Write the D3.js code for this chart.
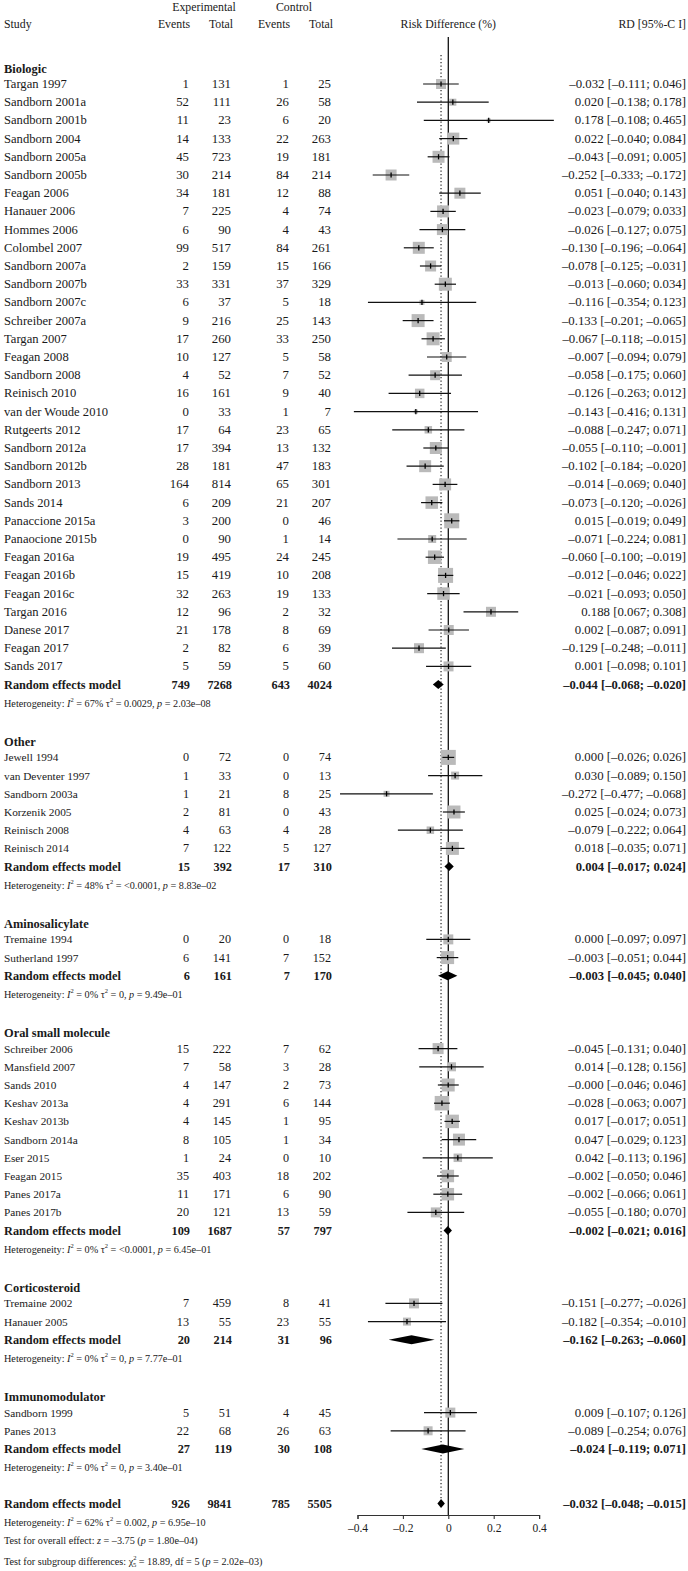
<!DOCTYPE html>
<html><head><meta charset="utf-8">
<script src="https://cdn.jsdelivr.net/npm/d3@7"></script>
<style>
body{margin:0;background:#fff}
svg{display:block}
text{font-family:"Liberation Serif","DejaVu Serif",serif;fill:#1a1a1a}
</style>
</head><body>
<svg id="chart" width="688" height="1571"></svg>
<script>
// ---------------- DATA ----------------
const groups = ["Biologic","Other","Aminosalicylate","Oral small molecule","Corticosteroid","Immunomodulator"];
const groupSizes = [33, 6, 2, 10, 2, 2];

const studies = [
 "Targan 1997","Sandborn 2001a","Sandborn 2001b","Sandborn 2004","Sandborn 2005a","Sandborn 2005b",
 "Feagan 2006","Hanauer 2006","Hommes 2006","Colombel 2007","Sandborn 2007a","Sandborn 2007b",
 "Sandborn 2007c","Schreiber 2007a","Targan 2007","Feagan 2008","Sandborn 2008","Reinisch 2010",
 "van der Woude 2010","Rutgeerts 2012","Sandborn 2012a","Sandborn 2012b","Sandborn 2013","Sands 2014",
 "Panaccione 2015a","Panaocione 2015b","Feagan 2016a","Feagan 2016b","Feagan 2016c","Targan 2016",
 "Danese 2017","Feagan 2017","Sands 2017",
 "Jewell 1994","van Deventer 1997","Sandborn 2003a","Korzenik 2005","Reinisch 2008","Reinisch 2014",
 "Tremaine 1994","Sutherland 1997",
 "Schreiber 2006","Mansfield 2007","Sands 2010","Keshav 2013a","Keshav 2013b","Sandborn 2014a",
 "Eser 2015","Feagan 2015","Panes 2017a","Panes 2017b",
 "Tremaine 2002","Hanauer 2005",
 "Sandborn 1999","Panes 2013"
];
const expEvents = [1,52,11,14,45,30,34,7,6,99,2,33,6,9,17,10,4,16,0,17,17,28,164,6,3,0,19,15,32,12,21,2,5,
 0,1,1,2,4,7, 0,6, 15,7,4,4,4,8,1,35,11,20, 7,13, 5,22];
const expTotal = [131,111,23,133,723,214,181,225,90,517,159,331,37,216,260,127,52,161,33,64,394,181,814,209,200,90,495,419,263,96,178,82,59,
 72,33,21,81,63,122, 20,141, 222,58,147,291,145,105,24,403,171,121, 459,55, 51,68];
const ctrlEvents = [1,26,6,22,19,84,12,4,4,84,15,37,5,25,33,5,7,9,1,23,13,47,65,21,0,1,24,10,19,2,8,6,5,
 0,0,8,0,4,5, 0,7, 7,3,2,6,1,1,0,18,6,13, 8,23, 4,26];
const ctrlTotal = [25,58,20,263,181,214,88,74,43,261,166,329,18,143,250,58,52,40,7,65,132,183,301,207,46,14,245,208,133,32,69,39,60,
 74,13,25,43,28,127, 18,152, 62,28,73,144,95,34,10,202,90,59, 41,55, 45,63];
const rd = [-0.032,0.020,0.178,0.022,-0.043,-0.252,0.051,-0.023,-0.026,-0.130,-0.078,-0.013,-0.116,-0.133,-0.067,-0.007,-0.058,-0.126,
 -0.143,-0.088,-0.055,-0.102,-0.014,-0.073,0.015,-0.071,-0.060,-0.012,-0.021,0.188,0.002,-0.129,0.001,
 0.000,0.030,-0.272,0.025,-0.079,0.018, 0.000,-0.003,
 -0.045,0.014,-0.0004,-0.028,0.017,0.047,0.042,-0.002,-0.002,-0.055, -0.151,-0.182, 0.009,-0.089];
const lower = [-0.111,-0.138,-0.108,-0.040,-0.091,-0.333,-0.040,-0.079,-0.127,-0.196,-0.125,-0.060,-0.354,-0.201,-0.118,-0.094,-0.175,-0.263,
 -0.416,-0.247,-0.110,-0.184,-0.069,-0.120,-0.019,-0.224,-0.100,-0.046,-0.093,0.067,-0.087,-0.248,-0.098,
 -0.026,-0.089,-0.477,-0.024,-0.222,-0.035, -0.097,-0.051,
 -0.131,-0.128,-0.046,-0.063,-0.017,-0.029,-0.113,-0.050,-0.066,-0.180, -0.277,-0.354, -0.107,-0.254];
const upper = [0.046,0.178,0.465,0.084,0.005,-0.172,0.143,0.033,0.075,-0.064,-0.031,0.034,0.123,-0.065,-0.015,0.079,0.060,0.012,
 0.131,0.071,-0.001,-0.020,0.040,-0.026,0.049,0.081,-0.019,0.022,0.050,0.308,0.091,-0.011,0.101,
 0.026,0.150,-0.068,0.073,0.064,0.071, 0.097,0.044,
 0.040,0.156,0.046,0.007,0.051,0.123,0.196,0.046,0.061,0.070, -0.026,-0.010, 0.126,0.076];
// approximate random-effects weights (%)
const weight = [1.56,0.77,0.25,2.25,2.25,1.89,1.89,2.25,1.89,2.25,1.89,2.64,0.39,2.64,2.64,1.56,1.56,1.41,
 0.25,0.88,2.25,2.25,2.25,2.44,3.52,1.0,2.85,3.52,2.44,1.56,1.56,1.56,1.56,
 3.52,1.0,0.56,2.64,0.88,2.64, 1.56,2.64,
 1.89,1.27,2.64,3.29,2.85,2.25,1.13,2.44,2.44,1.56, 1.56,1.0, 1.56,1.27];

const pooledExpEvents = [749,15,6,109,20,27];
const pooledExpTotal = [7268,392,161,1687,214,119];
const pooledCtrlEvents = [643,17,7,57,31,30];
const pooledCtrlTotal = [4024,310,170,797,96,108];
const pooledRD = [-0.044,0.004,-0.003,-0.002,-0.162,-0.024];
const pooledLower = [-0.068,-0.017,-0.045,-0.021,-0.263,-0.119];
const pooledUpper = [-0.020,0.024,0.040,0.016,-0.060,0.071];
const hetI2 = ["67%","48%","0%","0%","0%","0%"];
const hetTau2 = ["0.0029","<0.0001","0","<0.0001","0","0"];
const hetP = ["2.03e–08","8.83e–02","9.49e–01","6.45e–01","7.77e–01","3.40e–01"];

const overallCounts = [926, 9841, 785, 5505];
const overallRD = [-0.032, -0.048, -0.015];
const overallHet = ["62%", "0.002", "6.95e–10"];
const overallTest = ["–3.75", "1.80e–04"];
const subgroupTest = ["18.89", "5", "2.02e–03"];

const xTicks = [-0.4, -0.2, 0, 0.2, 0.4];

// ---------------- LAYOUT ----------------
const svg = d3.select("#chart");
const x = d3.scaleLinear().domain([-0.4, 0.4]).range([357.5, 539.1]);
const y = d3.scaleLinear().domain([0, 81]).range([84, 84 + 81 * 18.2]);
const box = d3.scaleSqrt().domain([0, 3.52]).range([0, 15]);

const colX = [189, 231, 289, 331];
const rdX = 686;
const fmt = v => (v < 0 || Object.is(v, -0) ? "–" : "") + Math.abs(v).toFixed(3);
const rdText = (e, l, u) => `${fmt(e)} [${fmt(l)}; ${fmt(u)}]`;

// build row list
const rows = [];
let r = -1, si = 0;
groups.forEach((g, gi) => {
  rows.push({type: "head", gi, row: r + 0.15}); r++;
  for (let k = 0; k < groupSizes[gi]; k++) { rows.push({type: "study", gi, i: si++, row: r}); r++; }
  rows.push({type: "pooled", gi, row: r}); r++;
  rows.push({type: "het", gi, row: r}); r++;
  r++; // blank
});
const overallRow = r - 1 + 1; // after last blank
// r now points to row after blank of last group

// header
const hdr = svg.append("g").style("font-size", "11.8px");
hdr.append("text").attr("x", 4).attr("y", 24).attr("dominant-baseline", "central").text("Study");
hdr.append("text").attr("x", 204).attr("y", 7).attr("text-anchor", "middle").attr("dominant-baseline", "central").text("Experimental");
hdr.append("text").attr("x", 294).attr("y", 7).attr("text-anchor", "middle").attr("dominant-baseline", "central").text("Control");
["Events","Total","Events","Total"].forEach((t, k) =>
  hdr.append("text").attr("x", colX[k] + (k % 2 ? 2 : 1)).attr("y", 24).attr("text-anchor", "end").attr("dominant-baseline", "central").text(t));
hdr.append("text").attr("x", x(0)).attr("y", 24).attr("text-anchor", "middle").attr("dominant-baseline", "central").text("Risk Difference (%)");
hdr.append("text").attr("x", rdX).attr("y", 24).attr("text-anchor", "end").attr("dominant-baseline", "central").text("RD [95%-C I]");

// reference lines
const lastRow = 78;
svg.append("line").attr("x1", x(0)).attr("x2", x(0)).attr("y1", 37).attr("y2", 1515)
  .attr("stroke", "#111").attr("stroke-width", 1.3);
svg.append("line").attr("x1", x(overallRD[0])).attr("x2", x(overallRD[0])).attr("y1", 55).attr("y2", y(lastRow))
  .attr("stroke", "#222").attr("stroke-width", 1.2).attr("stroke-dasharray", "1.3,2.2");

// helpers
function sup(t, s, dy) {
  t.append("tspan").attr("dy", -dy).style("font-size", s).text("2");
}
function hetLine(yy, I2, tau, p) {
  const t = svg.append("text").attr("x", 4).attr("y", yy).attr("dominant-baseline", "central").style("font-size", "10.2px");
  t.append("tspan").text("Heterogeneity: ");
  t.append("tspan").style("font-style", "italic").text("I");
  t.append("tspan").attr("dy", -4).style("font-size", "6.5px").text("2");
  t.append("tspan").attr("dy", 4).text(" = " + I2 + " τ");
  t.append("tspan").attr("dy", -4).style("font-size", "6.5px").text("2");
  t.append("tspan").attr("dy", 4).text(" = " + tau + ", ");
  t.append("tspan").style("font-style", "italic").text("p");
  t.append("tspan").text(" = " + p);
}
function diamond(yy, e, l, u, h) {
  svg.append("path")
    .attr("d", `M${x(l)},${yy}L${x(e)},${yy - h / 2}L${x(u)},${yy}L${x(e)},${yy + h / 2}Z`)
    .attr("fill", "#000");
}

rows.forEach(d => {
  const yy = y(d.row);
  const nameSize = d.gi === 0 ? "12.6px" : "11.3px";
  const numSize = d.gi === 0 ? "12.8px" : "12.2px";
  if (d.type === "head") {
    svg.append("text").attr("x", 4).attr("y", yy).attr("dominant-baseline", "central")
      .style("font-size", "12.4px").style("font-weight", "bold").text(groups[d.gi]);
  } else if (d.type === "study") {
    const i = d.i;
    svg.append("text").attr("x", 4).attr("y", yy).attr("dominant-baseline", "central")
      .style("font-size", nameSize).text(studies[i]);
    [expEvents[i], expTotal[i], ctrlEvents[i], ctrlTotal[i]].forEach((v, k) =>
      svg.append("text").attr("x", colX[k]).attr("y", yy).attr("text-anchor", "end")
        .attr("dominant-baseline", "central").style("font-size", numSize).text(v));
    svg.append("text").attr("x", rdX).attr("y", yy).attr("text-anchor", "end")
      .attr("dominant-baseline", "central").style("font-size", "12.8px").text(rdText(rd[i], lower[i], upper[i]));
    const s = box(weight[i]);
    svg.append("rect").attr("x", x(rd[i]) - s / 2).attr("y", yy - s / 2).attr("width", s).attr("height", s)
      .attr("fill", "#bababa");
    svg.append("line").attr("x1", x(lower[i])).attr("x2", x(upper[i])).attr("y1", yy).attr("y2", yy)
      .attr("stroke", "#111").attr("stroke-width", 1.2);
    svg.append("line").attr("x1", x(rd[i])).attr("x2", x(rd[i])).attr("y1", yy - 2.6).attr("y2", yy + 2.6)
      .attr("stroke", "#000").attr("stroke-width", 1.3);
  } else if (d.type === "pooled") {
    const g = d.gi;
    svg.append("text").attr("x", 4).attr("y", yy).attr("dominant-baseline", "central")
      .style("font-size", "12.3px").style("font-weight", "bold").text("Random effects model");
    [pooledExpEvents[g], pooledExpTotal[g], pooledCtrlEvents[g], pooledCtrlTotal[g]].forEach((v, k) =>
      svg.append("text").attr("x", colX[k] + 1).attr("y", yy).attr("text-anchor", "end")
        .attr("dominant-baseline", "central").style("font-size", "12.3px").style("font-weight", "bold").text(v));
    svg.append("text").attr("x", rdX).attr("y", yy).attr("text-anchor", "end")
      .attr("dominant-baseline", "central").style("font-size", "12.6px").style("font-weight", "bold")
      .text(rdText(pooledRD[g], pooledLower[g], pooledUpper[g]));
    diamond(yy, pooledRD[g], pooledLower[g], pooledUpper[g], 9);
  } else if (d.type === "het") {
    hetLine(yy, hetI2[d.gi], hetTau2[d.gi], hetP[d.gi]);
  }
});

// overall
const yo = y(lastRow);
svg.append("text").attr("x", 4).attr("y", yo).attr("dominant-baseline", "central")
  .style("font-size", "12.3px").style("font-weight", "bold").text("Random effects model");
overallCounts.forEach((v, k) =>
  svg.append("text").attr("x", colX[k] + 1).attr("y", yo).attr("text-anchor", "end")
    .attr("dominant-baseline", "central").style("font-size", "12.3px").style("font-weight", "bold").text(v));
svg.append("text").attr("x", rdX).attr("y", yo).attr("text-anchor", "end")
  .attr("dominant-baseline", "central").style("font-size", "12.6px").style("font-weight", "bold")
  .text(rdText(overallRD[0], overallRD[1], overallRD[2]));
diamond(yo, overallRD[0], overallRD[1], overallRD[2], 9);

hetLine(y(lastRow + 1), overallHet[0], overallHet[1], overallHet[2]);

const t1 = svg.append("text").attr("x", 4).attr("y", y(lastRow + 2)).attr("dominant-baseline", "central").style("font-size", "10.2px");
t1.append("tspan").text("Test for overall effect: ");
t1.append("tspan").style("font-style", "italic").text("z");
t1.append("tspan").text(" = " + overallTest[0] + " (");
t1.append("tspan").style("font-style", "italic").text("p");
t1.append("tspan").text(" = " + overallTest[1] + ")");

const t2 = svg.append("text").attr("x", 4).attr("y", y(lastRow + 3.15)).attr("dominant-baseline", "central").style("font-size", "10.2px");
t2.append("tspan").text("Test for subgroup differences: χ");
t2.append("tspan").attr("dy", -4).style("font-size", "6.5px").text("2");
t2.append("tspan").attr("dx", -3.5).attr("dy", 7).style("font-size", "6.5px").text("5");
t2.append("tspan").attr("dy", -3).text(" = " + subgroupTest[0] + ", df = " + subgroupTest[1] + " (");
t2.append("tspan").style("font-style", "italic").text("p");
t2.append("tspan").text(" = " + subgroupTest[2] + ")");

// axis
const axis = d3.axisBottom(x).tickValues(xTicks).tickSize(4).tickPadding(5)
  .tickFormat(v => v === 0 ? "0" : (v < 0 ? "–" : "") + Math.abs(v).toFixed(1));
const ax = svg.append("g").attr("transform", "translate(0,1515)").call(axis);
ax.select(".domain").attr("stroke", "#333").attr("stroke-width", 1.1);
ax.selectAll(".tick line").attr("stroke", "#333").attr("stroke-width", 1.1);
ax.selectAll(".tick text").style("font-family", "'Liberation Serif','DejaVu Serif',serif")
  .style("font-size", "11.5px").attr("fill", "#1a1a1a");
</script>
</body></html>
